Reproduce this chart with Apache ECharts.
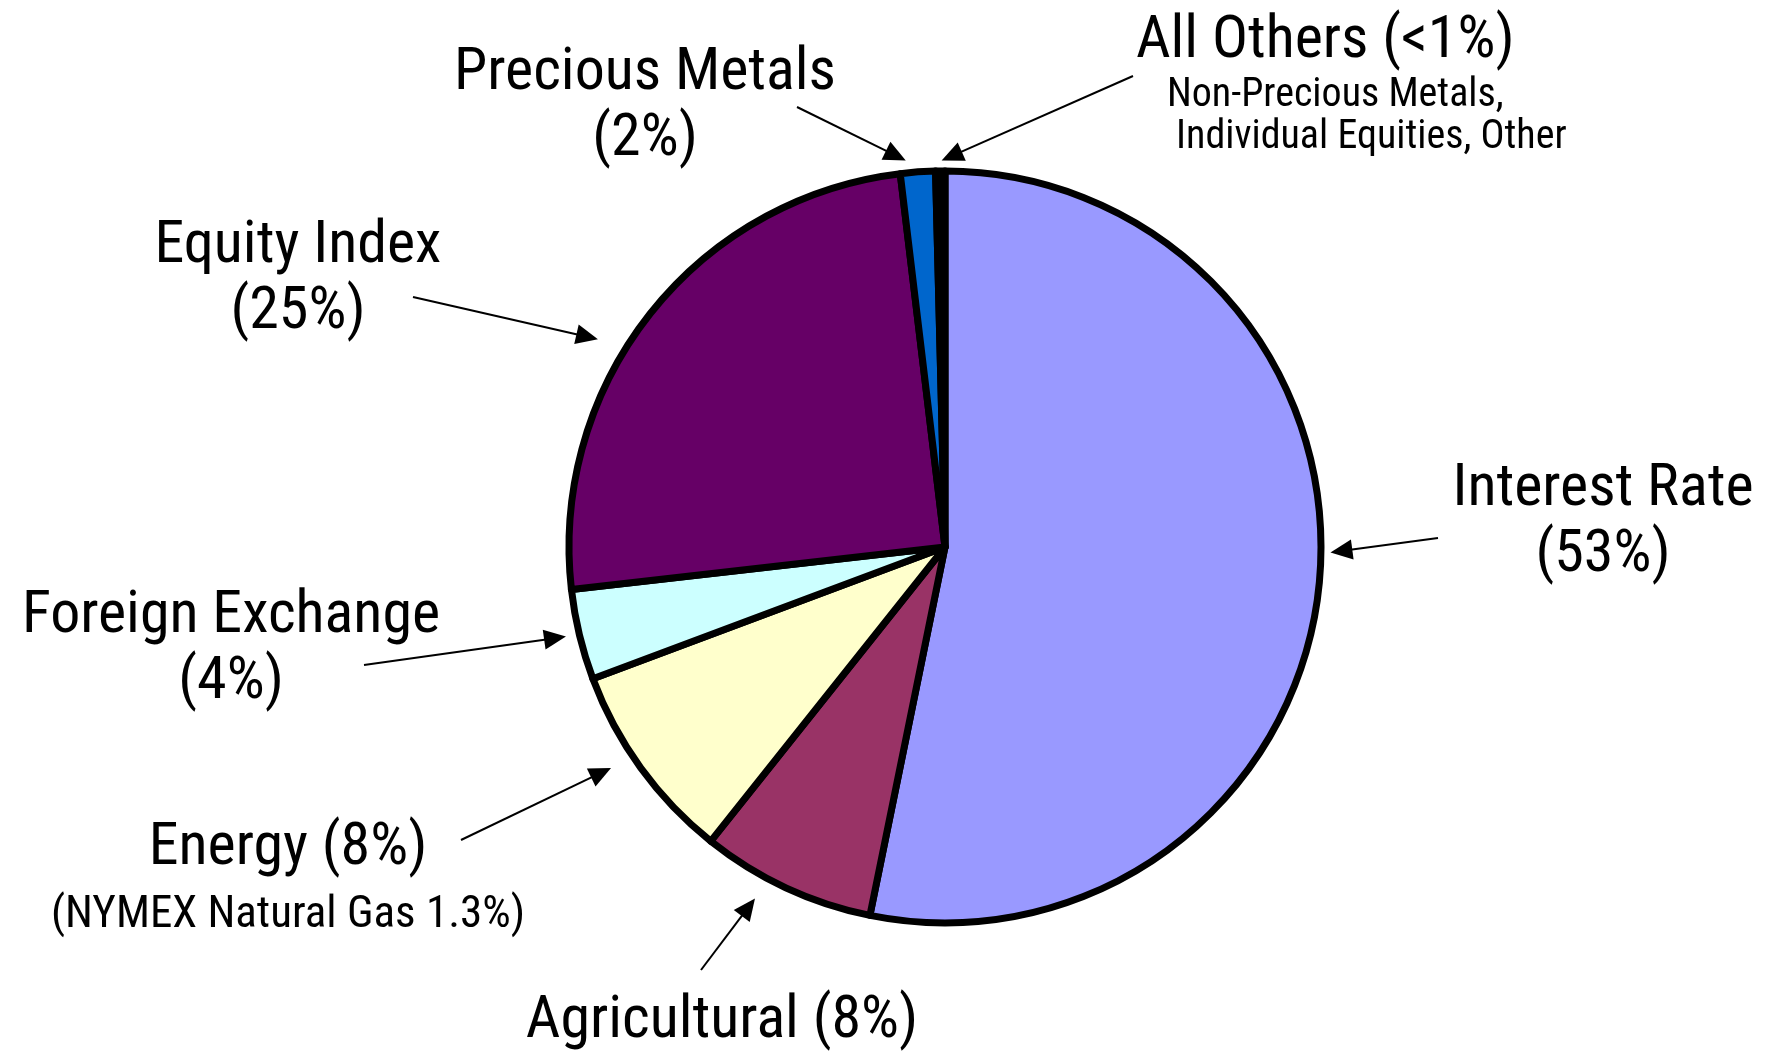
<!DOCTYPE html>
<html>
<head>
<meta charset="utf-8">
<script src="https://cdn.jsdelivr.net/npm/echarts@6/dist/echarts.min.js"></script>
<style>
html,body{margin:0;padding:0;background:#fff;}
#chart{width:1773px;height:1053px;}
</style>
</head>
<body>
<div id="chart"></div>
<script>
// ---- data ----
const categories = ['Interest Rate', 'Agricultural', 'Energy', 'Foreign Exchange', 'Equity Index', 'Precious Metals', 'All Others'];
const shares = [53.2, 7.5, 8.6, 3.9, 24.9, 1.5, 0.4];
const pctLabels = ['53%', '8%', '8%', '4%', '25%', '2%', '<1%'];
const noteEnergy = '(NYMEX Natural Gas 1.3%)';
const noteOthers1 = 'Non-Precious Metals,';
const noteOthers2 = 'Individual Equities, Other';
const colors = ['#9999FF', '#993366', '#FFFFCC', '#CCFFFF', '#660066', '#0066CC', '#000000'];

// ---- layout ----
const FONT = "'Roboto Condensed', 'Liberation Sans Narrow', 'DejaVu Sans Condensed', sans-serif";
const CENTER = [945, 547];
const RADIUS = 376;
const labelPos = [
  { x: 1603, y: 457, align: 'center' },
  { x: 722, y: 989, align: 'center' },
  { x: 288, y: 816, align: 'center' },
  { x: 231, y: 584, align: 'center' },
  { x: 298, y: 214, align: 'center' },
  { x: 645, y: 41, align: 'center' },
  { x: 1136, y: 9, align: 'left' }
];
const arrows = [
  { tail: [1438, 538], ang: 90.8, gap: 6 },
  { tail: [701, 970], ang: 208.4, gap: 20 },
  { tail: [461, 840], ang: 236.5, gap: 21 },
  { tail: [364, 665], ang: 256.7, gap: 10 },
  { tail: [413, 297], ang: 300.9, gap: 25 },
  { tail: [797, 107], ang: 354.2, gap: 9 },
  { tail: [1133, 76], ang: 359.5, gap: 7 }
];

function labelText(i) {
  const name = categories[i], pct = '(' + pctLabels[i] + ')';
  if (i === 1) return '{t|' + name + ' ' + pct + '}';
  if (i === 2) return '{t|' + name + ' ' + pct + '}\n{n|' + noteEnergy + '}';
  if (i === 6) return '{t|' + name + ' ' + pct + '}\n{a|' + noteOthers1 + '}\n{b|' + noteOthers2 + '}';
  return '{t|' + name + '}\n{t|' + pct + '}';
}

const graphics = [];
arrows.forEach(function (a) {
  const rad = a.ang * Math.PI / 180;
  const r = RADIUS + 3.5 + a.gap;
  const tip = [CENTER[0] + r * Math.sin(rad), CENTER[1] - r * Math.cos(rad)];
  const dx = tip[0] - a.tail[0], dy = tip[1] - a.tail[1];
  const len = Math.sqrt(dx * dx + dy * dy);
  const ux = dx / len, uy = dy / len;
  const hl = 22, hw = 10;
  const base = [tip[0] - ux * hl, tip[1] - uy * hl];
  graphics.push({
    type: 'line', silent: true,
    shape: { x1: a.tail[0], y1: a.tail[1], x2: base[0] + ux * 2, y2: base[1] + uy * 2 },
    style: { stroke: '#000', lineWidth: 2 }
  });
  graphics.push({
    type: 'polygon', silent: true,
    shape: { points: [tip, [base[0] - uy * hw, base[1] + ux * hw], [base[0] + uy * hw, base[1] - ux * hw]] },
    style: { fill: '#000' }
  });
});

const chart = echarts.init(document.getElementById('chart'), null, { renderer: 'canvas' });
chart.setOption({
  backgroundColor: '#ffffff',
  animation: false,
  graphic: graphics,
  series: [{
    type: 'pie',
    center: CENTER,
    radius: RADIUS,
    startAngle: 90,
    clockwise: true,
    avoidLabelOverlap: false,
    minAngle: 0,
    emphasis: { disabled: true },
    itemStyle: { borderColor: '#000', borderWidth: 7, borderJoin: 'round' },
    label: {
      show: true,
      position: 'outside',
      color: '#000',
      fontFamily: FONT,
      formatter: function (p) { return labelText(p.dataIndex); },
      rich: {
        t: { fontSize: 60, lineHeight: 66, fontFamily: FONT, color: '#000' },
        n: { fontSize: 45, lineHeight: 68, fontFamily: FONT, color: '#000' },
        a: { fontSize: 40, lineHeight: 42, fontFamily: FONT, color: '#000', padding: [0, 0, 0, 31] },
        b: { fontSize: 40, lineHeight: 42, fontFamily: FONT, color: '#000', padding: [0, 0, 0, 40] }
      }
    },
    labelLine: { show: false },
    labelLayout: function (p) {
      const L = labelPos[p.dataIndex];
      return { x: L.x, y: L.y, align: L.align, verticalAlign: 'top' };
    },
    data: categories.map(function (c, i) {
      return { name: c, value: shares[i], itemStyle: { color: colors[i] } };
    })
  }]
});
</script>
</body>
</html>
